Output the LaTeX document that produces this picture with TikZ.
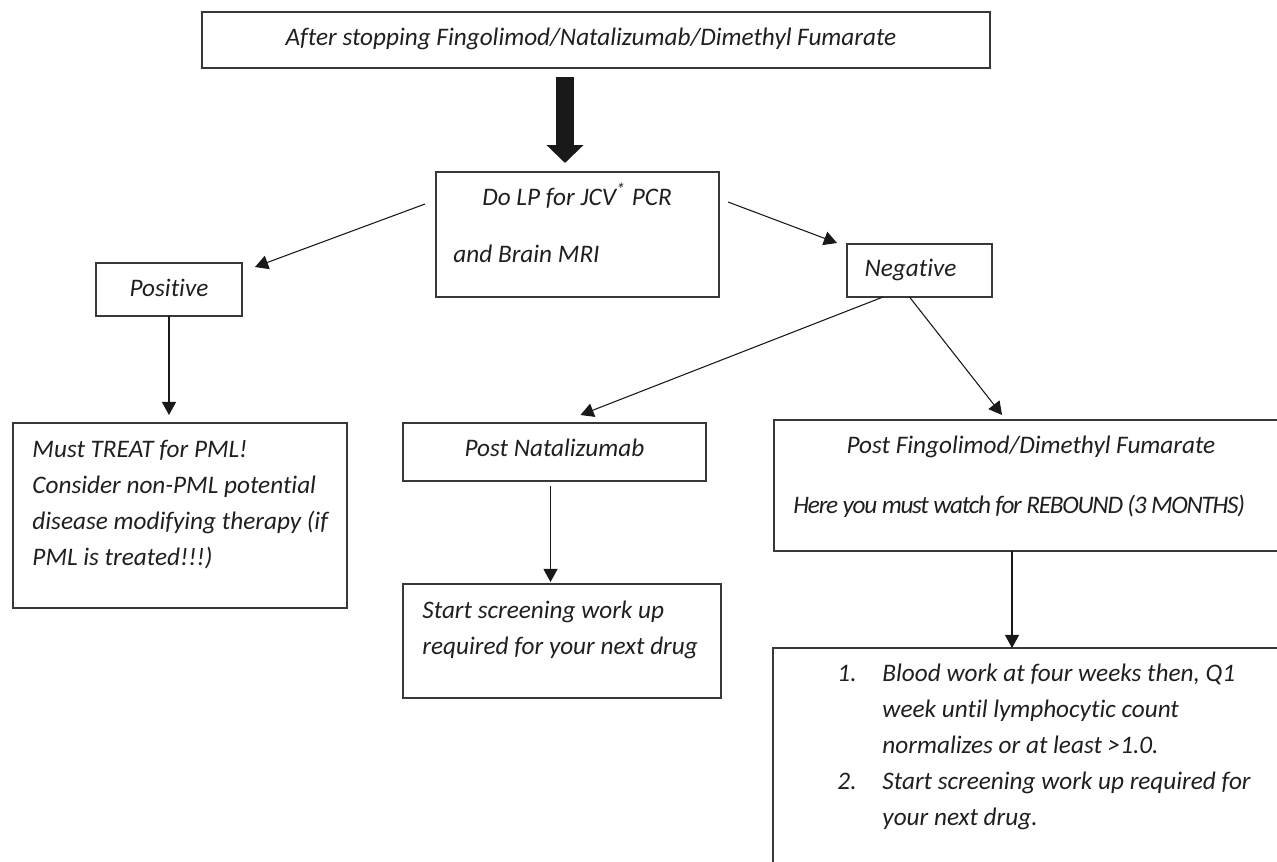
\documentclass[tikz,border=0pt]{standalone}
\usepackage{fontspec}
\setmainfont{Carlito}[Ligatures={TeX,NoCommon}]
\usepackage{tikz}
\usetikzlibrary{fit}
\usetikzlibrary{calc}
\usetikzlibrary{arrows.meta}

\begin{document}
\begin{tikzpicture}
[
	x								= 0.42pt,
	y								= -0.42pt,
	%
	% boxes are fitted to their corners, the texts sit at their baselines
	box/.style						=
	{
		draw						= black!78,
		line width					= 0.55pt,
		inner sep					= 0pt,
		outer sep					= 0pt
	},
	txt/.style						=
	{
		inner sep					= 0pt,
		text						= black!88,
		font						= \itshape\fontsize{10.6pt}{15.12pt}\selectfont
	},
	lines/.style					=
	{
		txt,
		align						= left,
		anchor						= north west,
		execute at begin node		= \strut
	},
	%
	link/.style						=
	{
		draw						= black!90,
		line width					= 0.45pt,
		-{Triangle[length=5.5pt, width=5.9pt]}
	},
	bigarrow/.style					=
	{
		draw						= black!90,
		line width					= 7.56pt,
		-{Triangle[length=7.56pt, width=15.12pt]}
	},
]
	\useasboundingbox (0,0) rectangle (1277,861);

	% the boxes
	\node (top)			[box, fit = {(202,12) (990,68)}]	{};
	\node (dolp)		[box, fit = {(436,172) (719,297)}]	{};
	\node (positive)	[box, fit = {(96,263) (242,316)}]	{};
	\node (negative)	[box, fit = {(847,244) (992,297)}]	{};
	\node (treat)		[box, fit = {(13,423) (347,608)}]	{};
	\node (postnat)		[box, fit = {(403,423) (706,481)}]	{};
	\node (screen)		[box, fit = {(403,584) (721,698)}]	{};
	\node (postfing)	[box, fit = {(774,420) (1295,551)}]	{};
	\node (list)		[box, fit = {(773,648) (1295,880)}]	{};

	% the texts
	\node (top-txt)		[txt, anchor = base]		at (591,45)		{After stopping Fingolimod/Natalizumab/Dimethyl Fumarate};
	\node (dolp-a)		[txt, anchor = base]		at (577,205)	{Do LP for JCV\textsuperscript{*} PCR};
	\node (dolp-b)		[txt, anchor = base west]	at (453,262)	{and Brain MRI};
	\node (pos-txt)		[txt, anchor = base]		at (169,296.5)	{Positive};
	\node (neg-txt)		[txt, anchor = base]		at (910.5,276.5)	{Negative};
	\node (nat-txt)		[txt, anchor = base]		at (554.5,456)	{Post Natalizumab};
	\node (fing-a)		[txt, anchor = base]		at (1031,453)	{Post Fingolimod/Dimethyl Fumarate};
	\node (fing-b)		[txt, anchor = base west]	at (793,513)	{\addfontfeature{LetterSpace=-5.0}Here you must watch for REBOUND (3 MONTHS)};

	\node (treat-txt)	[lines] at (32,439.8)
	{
		Must TREAT for PML!\\
		Consider non-PML potential\\
		disease modifying therapy (if\\
		PML is treated!!!)
	};
	\node (screen-txt)	[lines] at (422,600.8)
	{
		Start screening work up\\
		required for your next drug
	};
	\node (list-txt)	[lines] at (837,663.8)
	{
		\makebox[18.9pt][l]{1.}Blood work at four weeks then, Q1\\
		\hspace*{18.9pt}week until lymphocytic count\\
		\hspace*{18.9pt}normalizes or at least >1.0.\\
		\makebox[18.9pt][l]{2.}Start screening work up required for\\
		\hspace*{18.9pt}your next drug.
	};

	% the connectors
	\draw [bigarrow] ($(top.south west)+(363,9)$) -- ($(dolp.north west)+(129,-9)$);

	\draw [link] ([shift={(-11,32)}]dolp.north west) -- ([shift={(13,4)}]positive.north east);
	\draw [link] ([shift={(9,30)}]dolp.north east) -- ([shift={(-10,-1)}]negative.north west);
	\draw [link] (positive.south) -- ($(positive.south |- treat.north)+(0,-8)$);

	\draw [link] ([shift={(36,0)}]negative.south west) -- ([shift={(26,-8)}]postnat.north);
	\draw [link] ([shift={(-10,0)}]negative.south) -- ([shift={(228,-5)}]postfing.north west);
	\draw [link] ([shift={(-4,5)}]postnat.south) -- ($(postnat.south |- screen.north)+(-4,-2)$);

	\coordinate (fing-out) at ([shift={(238,0)}]postfing.south west);
	\draw [link] (fing-out) -- (fing-out |- list.north);

\end{tikzpicture}
\end{document}
